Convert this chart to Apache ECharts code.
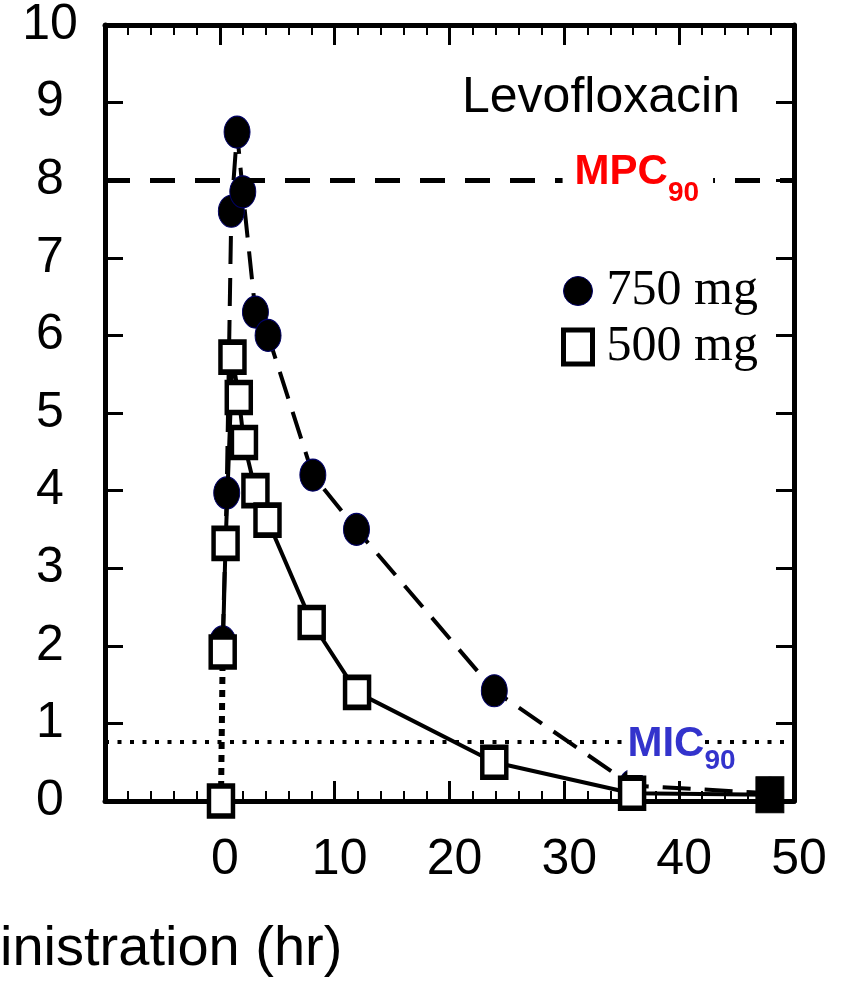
<!DOCTYPE html>
<html>
<head>
<meta charset="utf-8">
<script src="https://cdn.jsdelivr.net/npm/echarts@6/dist/echarts.min.js"></script>
<style>html,body{margin:0;padding:0;background:#fff;}#c{width:846px;height:988px;}</style>
</head>
<body>
<div id="c"></div>
<script>
// ---- data ----
const xTicks = [-10, 0, 10, 20, 30, 40, 50];
const yTicks = [0, 1, 2, 3, 4, 5, 6, 7, 8, 9, 10];
const time750 = [0.25, 0.6, 1.0, 1.5, 2.0, 3.1, 4.2, 8.1, 11.9, 23.9, 35.9, 47.9];
const conc750 = [2.05, 3.97, 7.6, 8.62, 7.85, 6.3, 6.0, 4.2, 3.5, 1.42, 0.2, 0.1];
const time500 = [0.1, 0.25, 0.5, 1.1, 1.65, 2.1, 3.1, 4.15, 8.0, 11.95, 23.9, 35.9, 47.9];
const conc500 = [0, 1.92, 3.32, 5.72, 5.2, 4.62, 4.0, 3.62, 2.3, 1.4, 0.5, 0.1, 0.08];
const mpc90 = 8;
const mic90 = 0.76;
const seriesNames = ['750 mg', '500 mg'];
const drugName = 'Levofloxacin';
const xTitleVisible = 'inistration (hr)';

const pts750 = time750.map((t, i) => [t, conc750[i]]);
const pts500 = time500.map((t, i) => [t, conc500[i]]);

const sq = {color: '#fff', borderColor: '#000', borderWidth: 5};
const chart = echarts.init(document.getElementById('c'));
const axisLineStyle = {color: '#000', width: 5};
const xAxisCommon = {
  type: 'value', min: xTicks[0], max: xTicks[xTicks.length - 1], interval: 10,
  axisLine: {show: true, onZero: false, lineStyle: axisLineStyle},
  axisTick: {show: true, inside: true, length: 20, lineStyle: {color: '#000', width: 3}},
  minorTick: {show: true, splitNumber: 5, length: 10, lineStyle: {color: '#000', width: 2}},
  splitLine: {show: false}
};
const yAxisCommon = {
  type: 'value', min: yTicks[0], max: yTicks[yTicks.length - 1], interval: 1,
  axisLine: {show: true, onZero: false, lineStyle: axisLineStyle},
  axisTick: {show: true, inside: true, length: 18, lineStyle: {color: '#000', width: 3}},
  splitLine: {show: false}
};
chart.setOption({
  backgroundColor: '#fff',
  animation: false,
  grid: {left: 105, right: 52, top: 25, bottom: 187, containLabel: false},
  xAxis: [
    Object.assign({}, xAxisCommon, {position: 'bottom',
      axisLabel: {show: true, margin: 34, fontSize: 50, color: '#000', fontFamily: 'Liberation Sans',
        padding: [0, 0, 0, 10],
        formatter: v => (v < 0 ? '' : String(v))}}),
    Object.assign({}, xAxisCommon, {position: 'top', axisLabel: {show: false}})
  ],
  yAxis: [
    Object.assign({}, yAxisCommon, {position: 'left',
      axisLabel: {show: true, margin: 55, align: 'center', fontSize: 50, color: '#000', fontFamily: 'Liberation Sans'}}),
    Object.assign({}, yAxisCommon, {position: 'right', axisLabel: {show: false}})
  ],
  legend: {
    orient: 'vertical', left: 556, top: 260, itemGap: 4, itemWidth: 29, itemHeight: 34,
    textStyle: {fontSize: 50, lineHeight: 52, fontFamily: 'Liberation Serif', color: '#000', padding: [0, 0, 0, 9]},
    data: [
      {name: seriesNames[0], icon: 'circle', itemStyle: {color: '#000', borderColor: '#000066', borderWidth: 1}},
      {name: seriesNames[1], icon: 'rect', itemStyle: sq}
    ]
  },
  graphic: [
    {type: 'text', left: 462, top: 73, style: {text: drugName, fontSize: 50, fontFamily: 'Liberation Sans', fill: '#000'}},
    {type: 'text', left: 0, top: 922, style: {text: xTitleVisible, fontSize: 56, fontFamily: 'Liberation Sans', fill: '#000'}}
  ],
  series: [
    {
      name: seriesNames[0], type: 'line', data: pts750, z: 3,
      symbol: 'circle', symbolSize: [26, 32],
      itemStyle: {color: '#000', borderColor: '#000066', borderWidth: 1},
      lineStyle: {color: '#000', width: 4, type: [28, 14]},
      markLine: {
        silent: true, symbol: 'none', animation: false,
        label: {show: false},
        data: [
          {yAxis: mpc90, lineStyle: {color: '#000', width: 5, type: [25, 20]}},
          {yAxis: mic90, lineStyle: {color: '#000', width: 4, type: [4, 8.5]}}
        ]
      },
      markPoint: {
        silent: true, symbol: 'rect', symbolSize: 0, animation: false,
        data: [
          {coord: [36.4, mpc90], label: {show: true, position: 'inside', offset: [0, 4],
            formatter: '{a|MPC}{s|90}', backgroundColor: '#fff', padding: [0, 14, 0, 12],
            rich: {a: {fontSize: 42, fontWeight: 'bold', color: '#ff0000', fontFamily: 'Liberation Sans', lineHeight: 46, verticalAlign: 'bottom', padding: [0, 0, 14, 0]},
                   s: {fontSize: 28, fontWeight: 'bold', color: '#ff0000', fontFamily: 'Liberation Sans', lineHeight: 30, verticalAlign: 'bottom'}}}},
          {coord: [40.2, mic90], label: {show: true, position: 'inside', offset: [0, 13],
            formatter: '{a|MIC}{s|90}',
            rich: {a: {fontSize: 42, fontWeight: 'bold', color: '#3333cc', fontFamily: 'Liberation Sans', lineHeight: 40, verticalAlign: 'bottom', padding: [0, 0, 10, 0], backgroundColor: '#fff'},
                   s: {fontSize: 28, fontWeight: 'bold', color: '#3333cc', fontFamily: 'Liberation Sans', lineHeight: 30, verticalAlign: 'bottom'}}}}
        ]
      }
    },
    {
      name: '', type: 'line', z: 4,
      data: [{value: pts500[0]}, {value: pts500[1], symbol: 'none'}],
      symbol: 'rect', symbolSize: [24, 30], itemStyle: sq,
      lineStyle: {color: '#000', width: 6, type: [7, 6]}
    },
    {
      name: seriesNames[1], type: 'line', z: 5,
      data: pts500.slice(1).map((p, i, arr) => i === arr.length - 1 ? {value: p, symbolSize: [28, 36], itemStyle: {color: '#000', borderColor: '#000', borderWidth: 1}} : {value: p}),
      symbol: 'rect', symbolSize: [24, 30], itemStyle: sq,
      lineStyle: {color: '#000', width: 4, type: 'solid'}
    }
  ]
});
</script>
</body>
</html>
